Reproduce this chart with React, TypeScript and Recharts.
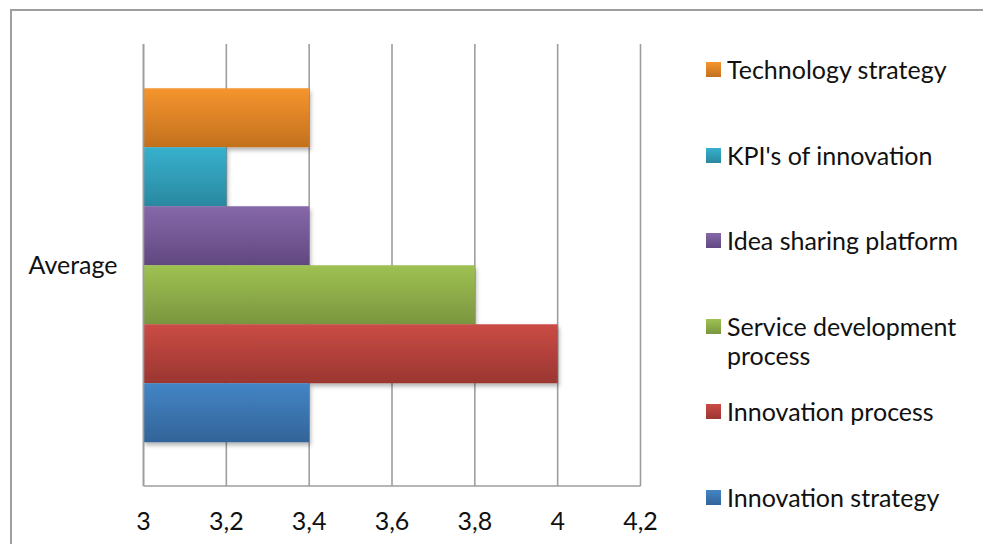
import React from "react";
import { Bar, BarChart, CartesianGrid, XAxis, YAxis } from "recharts";

const FONT = "Lato, 'Open Sans', sans-serif";
const GRID = "#9e9e9e";

// one category, six series listed top-to-bottom as they appear in the bar group
const categories = ["Average"];
const seriesNames = [
  "Technology strategy",
  "KPI's of innovation",
  "Idea sharing platform",
  "Service development process",
  "Innovation process",
  "Innovation strategy",
];
const seriesValues = [3.4, 3.2, 3.4, 3.8, 4.0, 3.4];
const xTicks = [3, 3.2, 3.4, 3.6, 3.8, 4, 4.2];

// [top, bottom] of each bar's vertical gradient
const seriesColors: [string, string][] = [
  ["#f5952e", "#c3701e"],
  ["#37b1cd", "#2a88a0"],
  ["#8668a9", "#614880"],
  ["#9fc152", "#7a963f"],
  ["#ca4c45", "#9b3631"],
  ["#4485c6", "#326498"],
];

const data = categories.map((name) => {
  const row: Record<string, string | number> = { name };
  seriesValues.forEach((v, i) => {
    row[`s${i}`] = v;
  });
  return row;
});

const fmt = (v: number) => String(v).replace(".", ",");

function LegendBox() {
  return (
    <div style={{ position: "absolute", left: 706, top: 55, fontFamily: FONT, fontSize: 25, color: "#111" }}>
      {seriesNames.map((name, i) => (
        <div key={name} style={{ height: 85.6, display: "flex", alignItems: "flex-start" }}>
          <div
            style={{
              width: 15,
              height: 15,
              marginTop: 7,
              marginRight: 6,
              flex: "none",
              background: `linear-gradient(${seriesColors[i][0]}, ${seriesColors[i][1]})`,
            }}
          />
          <div style={{ lineHeight: "29px", width: 245 }}>{name}</div>
        </div>
      ))}
    </div>
  );
}

export default function App() {
  return (
    <div style={{ position: "absolute", left: 0, top: 0, width: 983, height: 544, background: "#fff", overflow: "hidden" }}>
      <div
        style={{
          position: "absolute",
          left: 10,
          top: 9,
          width: 990,
          height: 560,
          borderLeft: `2px solid ${GRID}`,
          borderTop: `2px solid ${GRID}`,
        }}
      />
      <BarChart
        width={983}
        height={544}
        data={data}
        layout="vertical"
        margin={{ top: 44, right: 342.5, bottom: 0, left: 23.5 }}
        barCategoryGap="10%"
        barGap={0}
        style={{ position: "absolute", left: 0, top: 0, fontFamily: FONT }}
      >
        <defs>
          {seriesColors.map(([top, bottom], i) => (
            <linearGradient key={i} id={`grad${i}`} x1="0" y1="0" x2="0" y2="1">
              <stop offset="0%" stopColor={top} />
              <stop offset="100%" stopColor={bottom} />
            </linearGradient>
          ))}
          <filter id="barShadow" x="-10%" y="-10%" width="130%" height="140%">
            <feDropShadow dx="1.5" dy="3" stdDeviation="2.2" floodColor="#000" floodOpacity="0.3" />
          </filter>
        </defs>
        <CartesianGrid horizontal={false} stroke={GRID} strokeWidth={1.6} />
        <XAxis
          type="number"
          domain={[3, 4.2]}
          ticks={xTicks}
          allowDataOverflow
          height={58}
          tickFormatter={fmt}
          tick={{ fill: "#111", fontSize: 25 }}
          tickLine={false}
          tickSize={0}
          tickMargin={26}
          axisLine={{ stroke: GRID, strokeWidth: 1.6 }}
        />
        <YAxis
          type="category"
          dataKey="name"
          width={120}
          tick={{ fill: "#111", fontSize: 25 }}
          tickLine={false}
          tickSize={0}
          tickMargin={26}
          axisLine={{ stroke: GRID, strokeWidth: 1.6 }}
        />
        {seriesNames.map((name, i) => (
          <Bar
            key={name}
            dataKey={`s${i}`}
            name={name}
            fill={`url(#grad${i})`}
            filter="url(#barShadow)"
            isAnimationActive={false}
          />
        ))}
      </BarChart>
      <LegendBox />
    </div>
  );
}
